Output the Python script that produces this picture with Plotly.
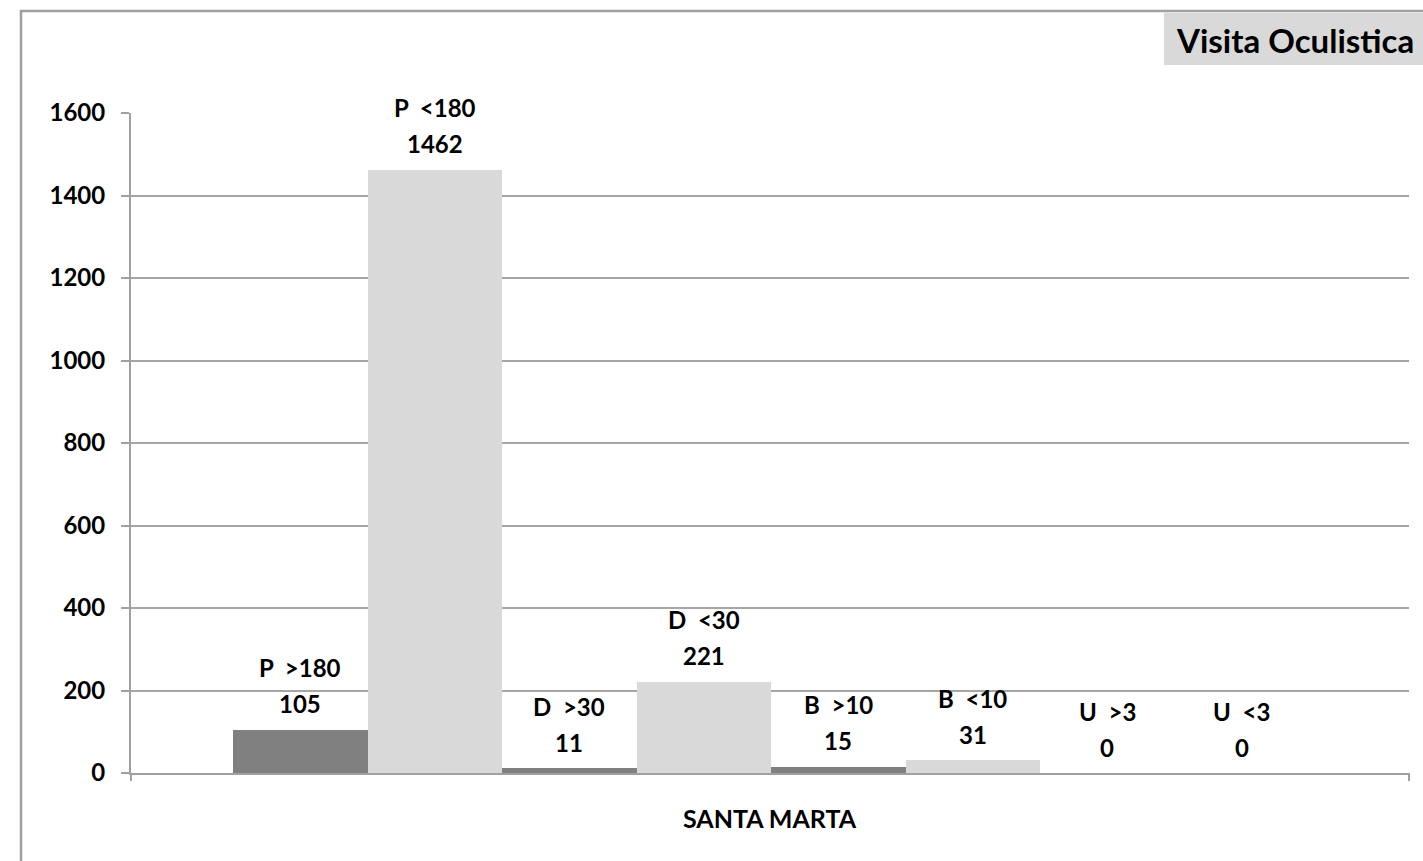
import plotly.graph_objects as go

categories = ["P  >180", "P  <180", "D  >30", "D  <30", "B  >10", "B  <10", "U  >3", "U  <3"]
values = [105, 1462, 11, 221, 15, 31, 0, 0]
bar_colors = ["#808080", "#d9d9d9"] * 4
group_label = "SANTA MARTA"
chart_title = "Visita Oculistica"
y_ticks = [0, 200, 400, 600, 800, 1000, 1200, 1400, 1600]

FONT = "Lato"
W, H = 1423, 861
# plot area in screen pixels
SL, SR, ST, SB = 131, 1409, 113, 773
L, T, R, B = SL, ST, W - SR, H - SB
pw, ph = W - L - R, H - T - B

def px_x(px):
    return (px - SL) / pw

def px_y(py):
    return (SB - py) / ph

fig = go.Figure()
fig.add_trace(go.Bar(
    x=categories, y=values,
    marker=dict(color=bar_colors, line=dict(width=0)),
    hoverinfo="x+y",
))

lab_font = dict(family=FONT, size=24, color="black", weight="bold")
annotations = []
for c, v in zip(categories, values):
    annotations.append(dict(x=c, y=v, xref="x", yref="y", text=str(v), showarrow=False,
                            yanchor="middle", yshift=26, font=lab_font))
    annotations.append(dict(x=c, y=v, xref="x", yref="y", text=c.replace(" ", "&nbsp;"), showarrow=False,
                            yanchor="middle", yshift=62, font=lab_font))

annotations.append(dict(x=0.5, y=0, xref="paper", yref="paper", text=group_label, showarrow=False,
                        yanchor="middle", yshift=-45,
                        font=dict(family=FONT, size=25, color="black", weight="bold")))
annotations.append(dict(x=px_x(1295), y=px_y(40), xref="paper", yref="paper", text=chart_title,
                        showarrow=False, xanchor="center", yanchor="middle",
                        font=dict(family=FONT, size=33, color="black", weight="bold")))

shapes = [
    dict(type="rect", xref="paper", yref="paper", x0=px_x(1164), x1=px_x(1440),
         y0=px_y(65), y1=px_y(13), fillcolor="#d9d9d9", line=dict(width=0), layer="below"),
    dict(type="rect", xref="paper", yref="paper", x0=px_x(21), x1=px_x(1440),
         y0=px_y(880), y1=px_y(11), line=dict(color="#a0a0a0", width=2.5), fillcolor="rgba(0,0,0,0)"),
    dict(type="line", xref="paper", yref="paper", x0=0, x1=0, y0=0, y1=px_y(781),
         line=dict(color="#a0a0a0", width=2)),
    dict(type="line", xref="paper", yref="paper", x0=1, x1=1, y0=0, y1=px_y(781),
         line=dict(color="#a0a0a0", width=2)),
]

unit = (1309 - 233) / 8
left_extra = (233 - SL) / unit
fig.update_layout(
    width=W, height=H,
    margin=dict(l=L, r=R, t=T, b=B, autoexpand=False),
    paper_bgcolor="white", plot_bgcolor="white",
    showlegend=False, bargap=0,
    annotations=annotations, shapes=shapes,
    xaxis=dict(type="category", range=[-0.5 - left_extra, -0.5 - left_extra + pw / unit],
               showticklabels=False, ticks="", showgrid=False, zeroline=False,
               showline=True, linecolor="#a0a0a0", linewidth=2, fixedrange=True),
    yaxis=dict(range=[0, 1600], tickvals=y_ticks, showgrid=True, gridcolor="#a6a6a6", gridwidth=1.5,
               zeroline=False, showline=True, linecolor="#a0a0a0", linewidth=2,
               ticks="outside", ticklen=8, tickcolor="#a0a0a0", tickwidth=2,
               ticklabelstandoff=11,
               tickfont=dict(family=FONT, size=24, color="black", weight="bold"), fixedrange=True),
)

fig.write_html("out.html", config={"displayModeBar": False},
               post_script="document.body.style.margin='0';document.body.style.overflow='hidden';")
